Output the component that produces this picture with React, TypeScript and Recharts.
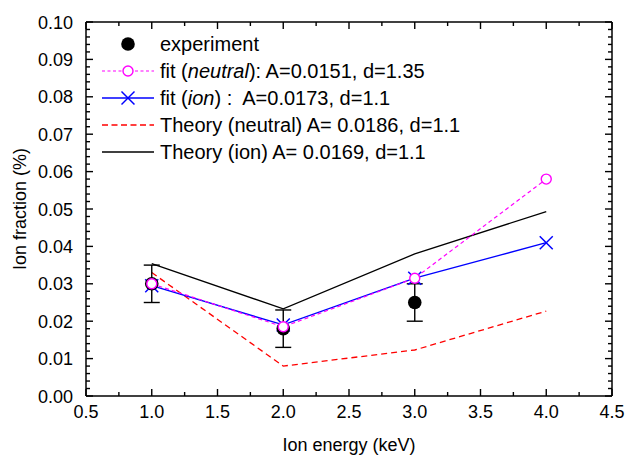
import React from "react";
import { ComposedChart, Line, XAxis, YAxis, ErrorBar, Legend } from "recharts";

// ion energy (keV)
const energies = [1, 2, 3, 4];
// measured ion fraction, only at 1..3 keV
const experiment = [0.03, 0.018, 0.025];
const experimentError = [0.005, 0.005, 0.005];
const fitNeutral = [0.03, 0.0185, 0.0315, 0.058];
const fitIon = [0.0295, 0.019, 0.0315, 0.041];
const theoryNeutral = [0.033, 0.008, 0.0123, 0.0227];
const theoryIon = [0.0354, 0.0233, 0.038, 0.0493];

const xMajorTicks = [0.5, 1.0, 1.5, 2.0, 2.5, 3.0, 3.5, 4.0, 4.5];
const yMajorTicks = [0, 0.01, 0.02, 0.03, 0.04, 0.05, 0.06, 0.07, 0.08, 0.09, 0.1];

const FONT = "'Liberation Sans', Arial, sans-serif";

// add minor ticks between the majors
const withMinors = (major: number[], parts: number) => {
  const out: number[] = [];
  for (let i = 0; i < major.length - 1; i++) {
    const step = (major[i + 1] - major[i]) / parts;
    for (let k = 0; k < parts; k++) out.push(+(major[i] + k * step).toFixed(6));
  }
  out.push(major[major.length - 1]);
  return out;
};

const xTicks = withMinors(xMajorTicks, 2);
const yTicks = withMinors(yMajorTicks, 5);

const isMajor = (v: number, list: number[]) => list.some((m) => Math.abs(m - v) < 1e-9);

const data = energies.map((e, i) => ({
  energy: e,
  fitNeutral: fitNeutral[i],
  fitIon: fitIon[i],
  theoryNeutral: theoryNeutral[i],
  theoryIon: theoryIon[i],
}));

const expData = experiment.map((v, i) => ({
  energy: energies[i],
  exp: v,
  err: experimentError[i],
}));

const TICK_W = 1.4;
const MAJOR_LEN = 7;
const MINOR_LEN = 4;

const BottomTick = ({ x, y, payload }: any) => {
  const major = isMajor(payload.value, xMajorTicks);
  const px = Number(x);
  const py = Number(y);
  return (
    <g>
      <path d={`M${px},${py}V${py - (major ? MAJOR_LEN : MINOR_LEN)}`} stroke="#000" strokeWidth={TICK_W} fill="none" />
      {major && (
        <text x={px} y={py + 22} textAnchor="middle" fontSize={18} fontFamily={FONT} fill="#000">
          {payload.value.toFixed(1)}
        </text>
      )}
    </g>
  );
};

const TopTick = ({ x, y, payload }: any) => {
  const major = isMajor(payload.value, xMajorTicks);
  const px = Number(x);
  const py = Number(y);
  return <path d={`M${px},${py}V${py + (major ? MAJOR_LEN : MINOR_LEN)}`} stroke="#000" strokeWidth={TICK_W} fill="none" />;
};

const LeftTick = ({ x, y, payload }: any) => {
  const major = isMajor(payload.value, yMajorTicks);
  const px = Number(x);
  const py = Number(y);
  return (
    <g>
      <path d={`M${px},${py}H${px + (major ? MAJOR_LEN : MINOR_LEN)}`} stroke="#000" strokeWidth={TICK_W} fill="none" />
      {major && (
        <text x={px - 13} y={py + 6.5} textAnchor="end" fontSize={18} fontFamily={FONT} fill="#000">
          {payload.value.toFixed(2)}
        </text>
      )}
    </g>
  );
};

const RightTick = ({ x, y, payload }: any) => {
  const major = isMajor(payload.value, yMajorTicks);
  const px = Number(x);
  const py = Number(y);
  return <path d={`M${px},${py}H${px - (major ? MAJOR_LEN : MINOR_LEN)}`} stroke="#000" strokeWidth={TICK_W} fill="none" />;
};

const Cross = ({ cx, cy, index }: any) => {
  if (cx == null || cy == null) return <g key={`x-${index}`} />;
  const s = 6.5;
  return (
    <g key={`x-${index}`}>
      <line x1={cx - s} y1={cy - s} x2={cx + s} y2={cy + s} stroke="#0000ff" strokeWidth={1.5} />
      <line x1={cx - s} y1={cy + s} x2={cx + s} y2={cy - s} stroke="#0000ff" strokeWidth={1.5} />
    </g>
  );
};

const OpenCircle = ({ cx, cy, index }: any) => {
  if (cx == null || cy == null) return <g key={`o-${index}`} />;
  return <circle key={`o-${index}`} cx={cx} cy={cy} r={5} fill="#fff" stroke="#ff00ff" strokeWidth={1.4} />;
};

const FilledCircle = ({ cx, cy, index }: any) => {
  if (cx == null || cy == null) return <g key={`f-${index}`} />;
  return <circle key={`f-${index}`} cx={cx} cy={cy} r={6.8} fill="#000" />;
};

const legendRows = [
  {
    icon: <circle cx={26} cy={10} r={6.8} fill="#000" />,
    text: <>experiment</>,
  },
  {
    icon: (
      <>
        <line x1={0} y1={10} x2={52} y2={10} stroke="#ff00ff" strokeWidth={1.2} strokeDasharray="3 2.5" />
        <circle cx={26} cy={10} r={5} fill="#fff" stroke="#ff00ff" strokeWidth={1.4} />
      </>
    ),
    text: (
      <>
        fit (<i>neutral</i>): A=0.0151, d=1.35
      </>
    ),
  },
  {
    icon: (
      <>
        <line x1={0} y1={10} x2={52} y2={10} stroke="#0000ff" strokeWidth={1.3} />
        <line x1={19.5} y1={3.5} x2={32.5} y2={16.5} stroke="#0000ff" strokeWidth={1.5} />
        <line x1={19.5} y1={16.5} x2={32.5} y2={3.5} stroke="#0000ff" strokeWidth={1.5} />
      </>
    ),
    text: (
      <>
        fit (<i>ion</i>) :  A=0.0173, d=1.1
      </>
    ),
  },
  {
    icon: <line x1={0} y1={10} x2={52} y2={10} stroke="#ff0000" strokeWidth={1.3} strokeDasharray="6 3.5" />,
    text: <>Theory (neutral) A= 0.0186, d=1.1</>,
  },
  {
    icon: <line x1={0} y1={10} x2={52} y2={10} stroke="#000" strokeWidth={1.3} />,
    text: <>Theory (ion) A= 0.0169, d=1.1</>,
  },
];

const renderLegend = () => (
  <div style={{ fontFamily: FONT, fontSize: 20, color: "#000" }}>
    {legendRows.map((row, i) => (
      <div key={i} style={{ display: "flex", alignItems: "center", height: 27 }}>
        <svg width={52} height={20} style={{ overflow: "visible" }}>
          {row.icon}
        </svg>
        <span style={{ marginLeft: 6, whiteSpace: "pre" }}>{row.text}</span>
      </div>
    ))}
  </div>
);

const axisLine = { stroke: "#000", strokeWidth: 1.5 };

export default function App() {
  return (
    <div style={{ position: "absolute", left: 0, top: 0, background: "#fff" }}>
      <ComposedChart width={629} height={455} data={data} margin={{ top: 21, right: 16, bottom: 0, left: 0 }}>
        <XAxis
          dataKey="energy"
          type="number"
          domain={[0.5, 4.5]}
          allowDataOverflow
          ticks={xTicks}
          interval={0}
          tickSize={0}
          tickMargin={0}
          tickLine={false}
          tick={(p: any) => <BottomTick {...p} />}
          axisLine={axisLine}
          height={59}
          label={{ value: "Ion energy (keV)", position: "center", dy: 19.5, fontSize: 18, fontFamily: FONT, fill: "#000" }}
        />
        <XAxis
          xAxisId="top"
          dataKey="energy"
          orientation="top"
          type="number"
          domain={[0.5, 4.5]}
          allowDataOverflow
          ticks={xTicks}
          interval={0}
          tickSize={0}
          tickMargin={0}
          tickLine={false}
          tick={(p: any) => <TopTick {...p} />}
          axisLine={axisLine}
          height={1}
        />
        <YAxis
          type="number"
          domain={[0, 0.1]}
          allowDataOverflow
          ticks={yTicks}
          interval={0}
          tickSize={0}
          tickMargin={0}
          tickLine={false}
          tick={(p: any) => <LeftTick {...p} />}
          axisLine={axisLine}
          width={86}
          label={{ value: "Ion fraction (%)", angle: -90, position: "center", dx: -23, fontSize: 18, fontFamily: FONT, fill: "#000" }}
        />
        <YAxis
          yAxisId="right"
          orientation="right"
          type="number"
          domain={[0, 0.1]}
          allowDataOverflow
          ticks={yTicks}
          interval={0}
          tickSize={0}
          tickMargin={0}
          tickLine={false}
          tick={(p: any) => <RightTick {...p} />}
          axisLine={axisLine}
          width={1}
        />
        {/* invisible series so the mirrored top/right axes get drawn */}
        <Line
          xAxisId="top"
          yAxisId="right"
          type="linear"
          dataKey="theoryIon"
          stroke="none"
          dot={false}
          legendType="none"
          isAnimationActive={false}
        />
        <Line type="linear" dataKey="theoryIon" stroke="#000" strokeWidth={1.3} dot={false} isAnimationActive={false} />
        <Line
          type="linear"
          dataKey="theoryNeutral"
          stroke="#ff0000"
          strokeWidth={1.3}
          strokeDasharray="6 4"
          dot={false}
          isAnimationActive={false}
        />
        <Line
          type="linear"
          dataKey="fitIon"
          stroke="#0000ff"
          strokeWidth={1.3}
          dot={(p: any) => <Cross {...p} />}
          isAnimationActive={false}
        />
        <Line
          type="linear"
          data={expData}
          dataKey="exp"
          stroke="none"
          dot={(p: any) => <FilledCircle {...p} />}
          isAnimationActive={false}
        >
          <ErrorBar dataKey="err" direction="y" width={8} stroke="#000" strokeWidth={1.4} />
        </Line>
        <Line
          type="linear"
          dataKey="fitNeutral"
          stroke="#ff00ff"
          strokeWidth={1.2}
          strokeDasharray="4 3"
          dot={(p: any) => <OpenCircle {...p} />}
          isAnimationActive={false}
        />
        <Legend
          content={renderLegend}
          layout="vertical"
          align="center"
          verticalAlign="middle"
          wrapperStyle={{ top: 30.5, left: 102, width: 420, height: 140 }}
        />
      </ComposedChart>
    </div>
  );
}
